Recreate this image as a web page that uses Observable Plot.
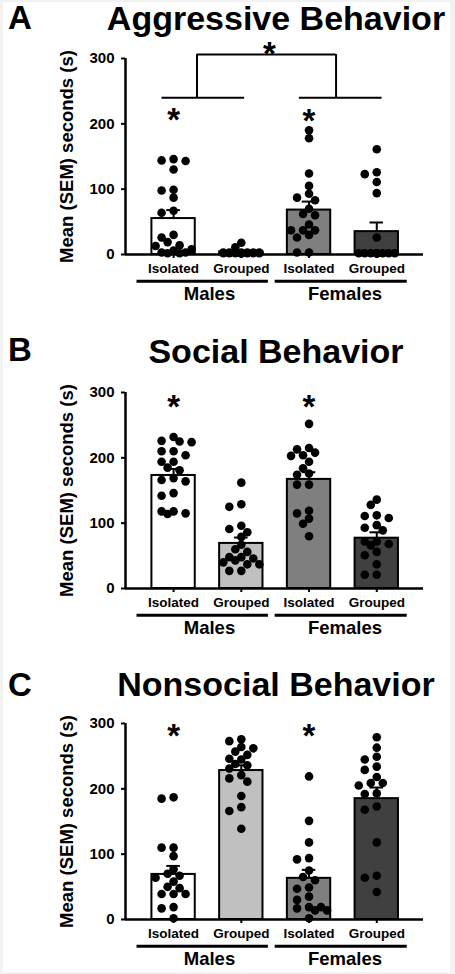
<!DOCTYPE html>
<html><head><meta charset="utf-8">
<script src="https://cdn.jsdelivr.net/npm/d3@7"></script>
<script src="https://cdn.jsdelivr.net/npm/@observablehq/plot@0.6"></script>
<style>
html,body{margin:0;padding:0;background:#f2f2f2;}
#page{position:relative;width:455px;height:974px;overflow:hidden;background:#f2f2f2;font-family:"Liberation Sans",Arial,sans-serif;font-weight:bold;color:#000;}
#inner{position:absolute;left:3px;top:2px;width:447px;height:970px;background:#fff;}
.letter{position:absolute;left:8px;font-size:33px;line-height:33px;}
.title{position:absolute;left:76px;width:400px;text-align:center;font-size:34px;line-height:34px;white-space:nowrap;}
.panel{position:absolute;left:0;}
</style>
</head><body>
<div id="page"><div id="inner"></div></div>
<script>
// ---- categories & labels ----
const groups = ["Isolated", "Grouped", "Isolated", "Grouped"];
const sexes = ["Males", "Females"];
const yTicks = [0, 100, 200, 300];
const yLabel = "Mean (SEM) seconds (s)";
const titles = ["Aggressive Behavior", "Social Behavior", "Nonsocial Behavior"];
const panelLetters = ["A", "B", "C"];

// ---- A: Aggressive behavior (seconds) ----
const aggMaleIsolated = [146, 144, 143, 130, 99, 98, 87, 67, 64, 30, 26, 19, 14, 13, 8, 6, 3, 3, 2, 2];
const aggMaleGrouped = [18, 11, 3, 3, 3, 3, 3, 3, 2, 2, 2, 2, 2, 2, 2, 2, 2, 2];
const aggFemaleIsolated = [190, 178, 124, 105, 93, 87, 83, 70, 62, 60, 46, 37, 37, 37, 30, 26, 3, 3];
const aggFemaleGrouped = [161, 126, 123, 111, 94, 26, 2, 2, 2, 2, 2, 2, 2, 2, 2, 2, 2, 2];
const aggMeans = [55, 4, 68, 35];
const aggSems = [13, 1.5, 13, 14];

// ---- B: Social behavior (seconds) ----
const socMaleIsolated = [232, 226, 225, 224, 210, 210, 204, 194, 194, 185, 181, 169, 166, 164, 146, 142, 118, 118, 115, 114];
const socMaleGrouped = [162, 129, 125, 96, 91, 86, 79, 67, 60, 56, 48, 48, 46, 43, 40, 37, 37, 27, 27];
const socFemaleIsolated = [252, 215, 213, 208, 204, 203, 194, 184, 176, 174, 159, 159, 119, 115, 107, 99, 80];
const socFemaleGrouped = [136, 128, 112, 111, 108, 97, 93, 89, 72, 72, 68, 66, 56, 51, 37, 21, 21];
const socMeans = [173, 69, 167, 77];
const socSems = [10, 9, 11, 9];

// ---- C: Nonsocial behavior (seconds) ----
const nonMaleIsolated = [187, 185, 110, 110, 97, 77, 70, 67, 64, 58, 50, 48, 39, 39, 39, 19, 17, 2];
const nonMaleGrouped = [276, 273, 264, 262, 257, 252, 246, 245, 238, 236, 231, 221, 216, 211, 189, 172, 166, 139];
const nonFemaleIsolated = [219, 151, 118, 94, 92, 75, 65, 60, 49, 47, 35, 30, 19, 19, 17, 14, 14, 2];
const nonFemaleGrouped = [279, 263, 249, 245, 234, 229, 218, 209, 209, 205, 193, 192, 173, 168, 118, 67, 64, 42];
const nonMeans = [69, 228, 63, 185];
const nonSems = [13, 8, 13, 17];

// ---- significance marks (value = height of the asterisk) ----
const aggStars = [{g: 1, v: 217}, {g: 3, v: 216}];
const socStars = [{g: 1, v: 290}, {g: 3, v: 290}];
const nonStars = [{g: 1, v: 292}, {g: 3, v: 292}];

// ---- layout ----
const W = 455, ML = 125, MR = 32, MT = 30, MB = 52, PH = 196;
const xDomain = [0.29, 4.69];
const pxPerX = (W - ML - MR) / (xDomain[1] - xDomain[0]);
const pxPerY = PH / 300;
const fills = ["#ffffff", "#c0c0c0", "#7f7f7f", "#404040"];
const font = "'Liberation Sans', Arial, sans-serif";

// column-scatter layout (like Prism): spread dots sideways to limit overlap
function scatter(values, gi) {
  const cand = [0, -6, 6, -12, 12, -18, 18];
  const placed = [];
  const sorted = values.slice().sort((a, b) => b - a);
  for (const v of sorted) {
    let best = 0, bestD = -1;
    for (const c of cand) {
      let md = Infinity;
      for (const p of placed) {
        const d = Math.hypot(c - p.o, (v - p.v) * pxPerY);
        if (d < md) md = d;
      }
      if (md >= 7.5) { best = c; bestD = md; break; }
      if (md > bestD) { bestD = md; best = c; }
    }
    placed.push({o: best, v});
  }
  return placed.map(p => ({x: gi + 1 + p.o / pxPerX, y: p.v}));
}

function panel(series, means, sems, stars, withBracket) {
  const bars = means.map((m, i) => ({i: i + 1, mean: m, top: m + sems[i], fill: fills[i]}));
  const dots = series.flatMap((s, gi) => scatter(s, gi));
  const sexLines = [{x1: 0.46, x2: 2.40}, {x1: 2.50, x2: 4.45}];
  const sexText = sexes.map((s, k) => ({s, x: 1.53 + 2 * k}));
  const starOpts = {text: () => "*", fontSize: 33, fontWeight: "bold", dy: 8, fill: "#000", textAnchor: "middle"};
  const marks = [
    Plot.rectY(bars, {x1: d => d.i - 0.32, x2: d => d.i + 0.32, y1: 0, y2: "mean", fill: "fill", stroke: "#000", strokeWidth: 2}),
    Plot.ruleX(bars, {x: "i", y1: "mean", y2: "top", stroke: "#000", strokeWidth: 2}),
    Plot.ruleY(bars, {y: "top", x1: d => d.i - 0.1, x2: d => d.i + 0.1, stroke: "#000", strokeWidth: 2}),
    Plot.ruleY([0], {stroke: "#000", strokeWidth: 2.5}),
    Plot.ruleX([xDomain[0]], {y1: 0, y2: 300, stroke: "#000", strokeWidth: 2.5}),
    Plot.dot(dots, {x: "x", y: "y", r: 4.3, fill: "#000", stroke: null}),
    Plot.axisY({ticks: yTicks, tickSize: 4, tickPadding: 7, fontSize: 15, fontWeight: "bold", strokeWidth: 2, label: null}),
    Plot.axisX({ticks: [1, 2, 3, 4], tickFormat: i => groups[i - 1], tickSize: 4, tickPadding: 5, fontSize: 13.5, fontWeight: "bold", strokeWidth: 2, label: null}),
    Plot.text([yLabel], {frameAnchor: "left", dx: -58.4, rotate: -90, textAnchor: "middle", lineAnchor: "middle", fontSize: 18.5, fontWeight: "bold", fill: "#000"}),
    Plot.ruleY(sexLines, {x1: "x1", x2: "x2", y: -40.8, stroke: "#000", strokeWidth: 3}),
    Plot.text(sexText, {x: "x", y: -60.5, text: "s", fontSize: 18.5, fontWeight: "bold", fill: "#000"}),
    Plot.text(stars, {x: "g", y: "v", ...starOpts})
  ];
  if (withBracket) {
    marks.push(
      Plot.ruleY([{a: 1.346, b: 3.399}], {x1: "a", x2: "b", y: 306, stroke: "#000", strokeWidth: 2}),
      Plot.ruleX([1.346, 3.399], {y1: 240, y2: 306, stroke: "#000", strokeWidth: 2}),
      Plot.ruleY([{a: 0.829, b: 2.049}, {a: 2.857, b: 4.078}], {x1: "a", x2: "b", y: 240, stroke: "#000", strokeWidth: 2}),
      Plot.text([{x: 2.414, y: 318}], {x: "x", y: "y", ...starOpts})
    );
  }
  return Plot.plot({
    width: W, height: MT + PH + MB,
    marginLeft: ML, marginRight: MR, marginTop: MT, marginBottom: MB,
    x: {domain: xDomain, axis: null},
    y: {domain: [0, 300], axis: null},
    style: {background: "transparent", overflow: "visible", fontFamily: font, fontWeight: "bold", color: "#000"},
    marks
  });
}

const page = document.getElementById("page");
const specs = [
  {series: [aggMaleIsolated, aggMaleGrouped, aggFemaleIsolated, aggFemaleGrouped], means: aggMeans, sems: aggSems, stars: aggStars, bracket: true, axisTop: 58.3, letterTop: 1.1, titleTop: 1.2},
  {series: [socMaleIsolated, socMaleGrouped, socFemaleIsolated, socFemaleGrouped], means: socMeans, sems: socSems, stars: socStars, bracket: false, axisTop: 391.7, letterTop: 333, titleTop: 334.2},
  {series: [nonMaleIsolated, nonMaleGrouped, nonFemaleIsolated, nonFemaleGrouped], means: nonMeans, sems: nonSems, stars: nonStars, bracket: false, axisTop: 723.3, letterTop: 668, titleTop: 667.2}
];
specs.forEach((s, k) => {
  const L = document.createElement("div");
  L.className = "letter"; L.style.top = s.letterTop + "px"; L.textContent = panelLetters[k];
  page.appendChild(L);
  const T = document.createElement("div");
  T.className = "title"; T.style.top = s.titleTop + "px"; T.textContent = titles[k];
  page.appendChild(T);
  const P = document.createElement("div");
  P.className = "panel"; P.style.top = (s.axisTop - MT) + "px";
  P.appendChild(panel(s.series, s.means, s.sems, s.stars, s.bracket));
  page.appendChild(P);
});
</script>
</body></html>
